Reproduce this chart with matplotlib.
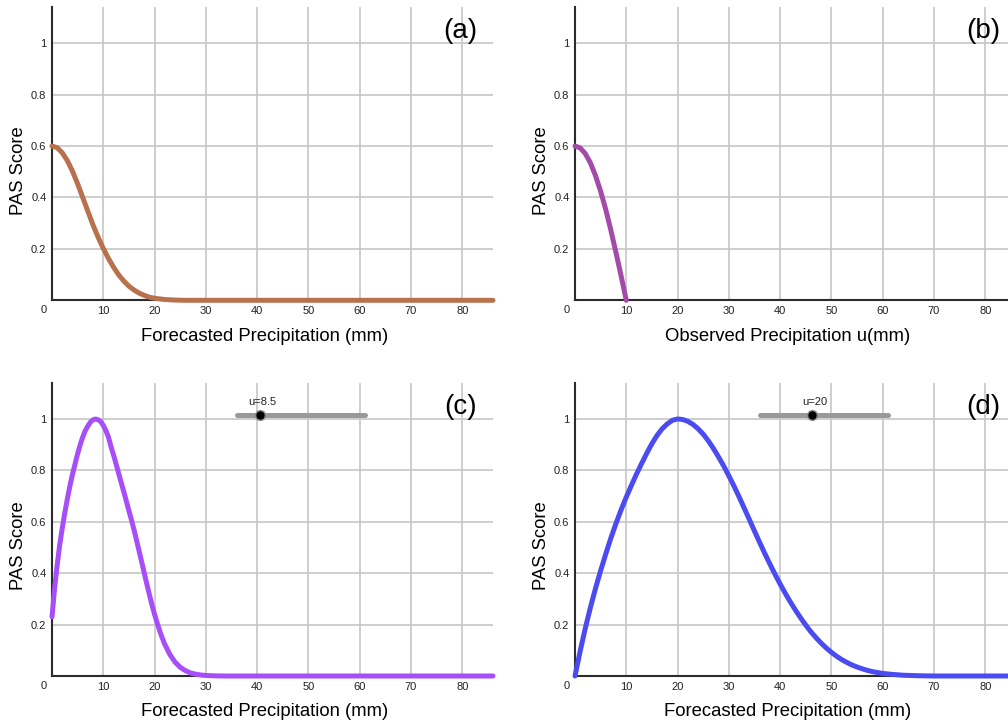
import matplotlib
matplotlib.use('Agg')
import matplotlib.pyplot as plt

#---------------------------------------------------------------------
# Data
#---------------------------------------------------------------------
# (a) PAS score versus forecasted precipitation
xA = [0, 1, 2, 3, 4, 5, 6, 7, 8, 9, 10, 11, 12, 13, 14, 15, 16, 17, 18,
      19, 20, 22, 24, 26, 86]
yA = [0.600, 0.594, 0.574, 0.543, 0.502, 0.453, 0.400, 0.346, 0.293,
      0.245, 0.202, 0.163, 0.129, 0.099, 0.075, 0.055, 0.040, 0.028,
      0.019, 0.012, 0.008, 0.003, 0.001, 0.0, 0.0]

# (b) PAS score versus observed precipitation u
xB = [0, 1, 2, 3, 4, 5, 6, 7, 8, 9, 10]
yB = [0.600, 0.593, 0.571, 0.535, 0.485, 0.424, 0.353, 0.272, 0.185,
      0.094, 0.0]

# (c) PAS score for u = 8.5
xC = [0, 0.5, 1, 1.5, 2, 2.5, 3, 3.5, 4, 4.5, 5, 5.5, 6, 6.5, 7, 7.5, 8,
      8.5, 9, 9.5, 10, 10.5, 11, 11.5, 12, 12.5, 13, 13.5, 14, 14.5, 15,
      15.5, 16, 16.5, 17, 17.5, 18, 18.5, 19, 19.5, 20, 20.5, 21, 21.5,
      22, 23, 24, 25, 26, 27, 28, 29, 30, 32, 34, 86]
yC = [0.23, 0.34, 0.43, 0.51, 0.575, 0.635, 0.69, 0.74, 0.785, 0.825,
      0.865, 0.9, 0.93, 0.955, 0.973, 0.988, 0.997, 1.0, 0.997, 0.99,
      0.975, 0.955, 0.93, 0.893, 0.86, 0.825, 0.788, 0.752, 0.717, 0.68,
      0.643, 0.607, 0.568, 0.527, 0.485, 0.443, 0.40, 0.357, 0.316, 0.276,
      0.24, 0.207, 0.176, 0.148, 0.123, 0.083, 0.054, 0.034, 0.021, 0.012,
      0.007, 0.004, 0.002, 0.0005, 0.0, 0.0]

# (d) PAS score for u = 20
xD = [0, 1, 2, 3, 4, 5, 6, 7, 8, 9, 10, 11, 12, 13, 14, 15, 16, 17, 18,
      19, 20, 21, 22, 23, 24, 25, 26, 27, 28, 29, 30, 31, 32, 33, 34, 35,
      36, 37, 38, 39, 40, 41, 42, 43, 44, 45, 46, 47, 48, 49, 50, 51, 52,
      53, 54, 55, 56, 57, 58, 60, 62, 64, 67, 70, 86]
yD = [0.0, 0.096, 0.185, 0.266, 0.341, 0.41, 0.475, 0.537, 0.594, 0.647,
      0.696, 0.742, 0.786, 0.827, 0.867, 0.904, 0.936, 0.962, 0.981,
      0.995, 1.0, 0.998, 0.991, 0.979, 0.962, 0.941, 0.915, 0.885, 0.852,
      0.817, 0.779, 0.739, 0.697, 0.653, 0.609, 0.564, 0.52, 0.477, 0.436,
      0.396, 0.358, 0.322, 0.288, 0.256, 0.226, 0.198, 0.172, 0.149, 0.128,
      0.109, 0.092, 0.077, 0.064, 0.053, 0.043, 0.035, 0.028, 0.022,
      0.017, 0.010, 0.006, 0.003, 0.001, 0.0, 0.0]

xTicks = [10, 20, 30, 40, 50, 60, 70, 80]
yTicks = [0.2, 0.4, 0.6, 0.8, 1.0]
yTickLabels = ['0.2', '0.4', '0.6', '0.8', '1']

uValueC = 8.5
uValueD = 20


def drawPanel(fig, rect, xs, ys, color, xLabel, panelLabel, slider=None):
    ax = fig.add_axes(rect)
    ax.set_xlim(0, 86)
    ax.set_ylim(0, 1.14)
    for side in ['top', 'right']:
        ax.spines[side].set_visible(False)
    for side in ['left', 'bottom']:
        ax.spines[side].set_color('#2b2b2b')
        ax.spines[side].set_linewidth(1.5)
    ax.set_xticks(xTicks)
    ax.set_yticks(yTicks)
    ax.set_yticklabels(yTickLabels)
    ax.tick_params(length=0, labelsize=8, colors='#222222')
    ax.tick_params(axis='y', pad=4)
    ax.tick_params(axis='x', pad=4)
    ax.grid(True, color='#c6c6c6', linewidth=1.2)
    ax.set_axisbelow(True)
    ax.annotate('0', xy=(0, 0), xytext=(-8, -10), textcoords='offset pixels',
                ha='center', va='center', fontsize=8, color='#222222')
    ax.plot(xs, ys, color=color, linewidth=3.6, solid_capstyle='round',
            solid_joinstyle='round', zorder=4, clip_on=False)
    ax.set_ylabel('PAS Score', fontsize=13.3, va='center')
    ax.yaxis.set_label_coords(-0.077, 0.444)
    ax.set_xlabel(xLabel, fontsize=13.3, va='center')
    ax.xaxis.set_label_coords(0.483, -0.122)
    ax.text(79.7, 1.048, panelLabel, fontsize=20, ha='center', va='center')
    #------------- slider widget
    if slider is not None:
        uValue, dotX = slider
        ax.plot([36, 61.1], [1.017, 1.017], color='#999999', linewidth=3.6,
                solid_capstyle='round', zorder=5)
        ax.plot([dotX], [1.017], marker='o', markersize=7,
                markerfacecolor='black', markeredgecolor='#888888',
                markeredgewidth=1, zorder=6)
        ax.text(dotX + 0.6, 1.066, 'u=' + str(uValue), fontsize=8,
                ha='center', va='center', color='#222222')
    return ax


def main():
    plt.rcParams['font.family'] = ['Liberation Sans', 'DejaVu Sans']
    fig = plt.figure(figsize=(10.08, 7.27), dpi=100)
    width = 441 / 1008
    height = 293 / 727
    drawPanel(fig, [52 / 1008, 426.7 / 727, width, height], xA, yA,
              '#b8714d', 'Forecasted Precipitation (mm)', '(a)')
    drawPanel(fig, [575 / 1008, 426.7 / 727, width, height], xB, yB,
              '#a44aa8', 'Observed Precipitation u(mm)', '(b)')
    drawPanel(fig, [52 / 1008, 51 / 727, width, height], xC, yC,
              '#a64ef7', 'Forecasted Precipitation (mm)', '(c)',
              slider=(uValueC, 40.5))
    drawPanel(fig, [575 / 1008, 51 / 727, width, height], xD, yD,
              '#4b4bf2', 'Forecasted Precipitation (mm)', '(d)',
              slider=(uValueD, 46.2))
    fig.savefig('out.png', dpi=100)


if __name__ == "__main__":
    main()
